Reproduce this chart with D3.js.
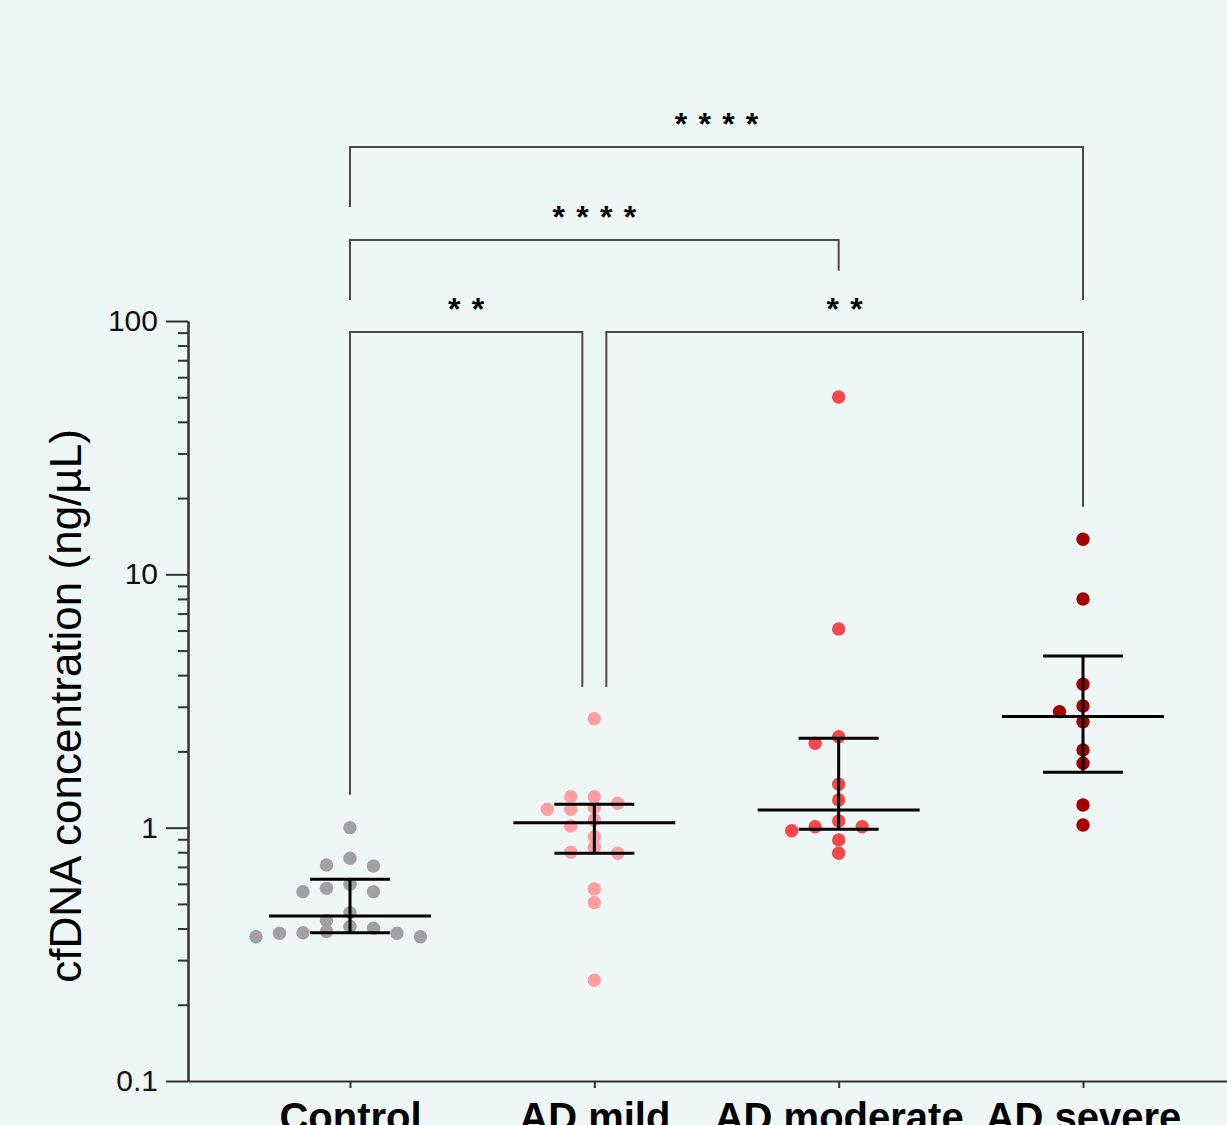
<!DOCTYPE html>
<html><head><meta charset="utf-8">
<script src="https://cdn.jsdelivr.net/npm/d3@7"></script>
<style>body{margin:0;background:#eef7f5;} svg{display:block;}</style>
</head><body><svg id="chart" width="1227" height="1125"></svg>
<script>
const categories = ["Control", "AD mild", "AD moderate", "AD severe"];
const controlValues = [1.0, 0.757, 0.712, 0.706, 0.598, 0.576, 0.559, 0.559, 0.462, 0.430, 0.407, 0.401, 0.389, 0.385, 0.383, 0.383, 0.371, 0.371];
const mildValues = [2.69, 1.326, 1.326, 1.248, 1.204, 1.182, 1.182, 1.072, 1.016, 0.922, 0.837, 0.800, 0.792, 0.573, 0.506, 0.250];
const moderateValues = [50.1, 6.09, 2.287, 2.154, 1.483, 1.286, 1.063, 1.009, 1.009, 0.973, 0.894, 0.792];
const severeValues = [13.75, 7.99, 3.68, 3.02, 2.87, 2.62, 2.026, 1.796, 1.229, 1.025];
const medians = [0.448, 1.046, 1.175, 2.744];
const q1 = [0.385, 0.792, 0.986, 1.654];
const q3 = [0.626, 1.237, 2.254, 4.76];
const dotColors = ["#a2a0a5", "#ff9ea0", "#f4474a", "#a40000"];
const yMajorTicks = [0.1, 1, 10, 100];
const yTickLabels = ["0.1", "1", "10", "100"];
const yTitle = "cfDNA concentration (ng/µL)";
const comparisons = [
  {from: 0, to: 3, label: "****", bar: 486, endFrom: 282, endTo: 121},
  {from: 0, to: 2, label: "****", bar: 209, endFrom: 121, endTo: 158},
  {from: 0, to: 1, label: "**", bar: 90.5, endFrom: 1.35, endTo: 3.59},
  {from: 1, to: 3, label: "**", bar: 90.5, endFrom: 3.59, endTo: 18.5}
];
const groups = [controlValues, mildValues, moderateValues, severeValues];

const svg = d3.select("#chart");
svg.append("rect").attr("width", 1227).attr("height", 1125).attr("fill", "#eef7f5");

const x = d3.scalePoint().domain(categories).range([188, 1245]).padding(0.663);
const y = d3.scaleLog().domain([0.1, 100]).range([1081, 321]);

// minor ticks
const minorTicks = [];
[0.1, 1, 10].forEach(d => { for (let k = 2; k <= 9; k++) minorTicks.push(d * k); });

const yMinor = svg.append("g").attr("transform", "translate(188,0)")
  .call(d3.axisLeft(y).tickValues(minorTicks).tickSize(10).tickSizeOuter(0).tickFormat(""));
const yMajor = svg.append("g").attr("transform", "translate(188,0)")
  .call(d3.axisLeft(y).tickValues(yMajorTicks).tickSize(22).tickSizeOuter(0).tickPadding(8)
    .tickFormat((d, i) => yTickLabels[i]));
[yMinor, yMajor].forEach(g => {
  g.selectAll("path.domain").attr("stroke", "#333").attr("stroke-width", 2);
  g.selectAll(".tick line").attr("stroke", "#333").attr("stroke-width", 2);
});
yMajor.selectAll(".tick text").attr("font-family", "Liberation Sans, Arial, sans-serif")
  .attr("font-size", 30).attr("fill", "#111");

const xAxis = svg.append("g").attr("transform", "translate(0,1081)")
  .call(d3.axisBottom(x).tickSize(7).tickSizeOuter(0));
xAxis.selectAll("path.domain").attr("stroke", "#333").attr("stroke-width", 2);
xAxis.selectAll(".tick line").attr("stroke", "#333").attr("stroke-width", 2);
xAxis.selectAll(".tick text").attr("y", 50).attr("dy", "0")
  .attr("font-family", "Liberation Sans, Arial, sans-serif").attr("font-weight", "bold")
  .attr("font-size", 40).attr("fill", "#000");

// y title
svg.append("text").attr("transform", "translate(81,706) rotate(-90)")
  .attr("text-anchor", "middle").attr("font-family", "Liberation Sans, Arial, sans-serif")
  .attr("font-size", 44).attr("fill", "#000").text(yTitle);

// beeswarm
function swarm(values, cx) {
  const h = 11.75;
  const placed = [];
  const pts = values.map(v => ({v, y: y(v)})).sort((a, b) => a.y - b.y);
  pts.forEach(p => {
    for (let k = 0; k < 60; k++) {
      const off = k === 0 ? 0 : (k % 2 ? -Math.ceil(k / 2) : Math.ceil(k / 2)) * h;
      const px = cx + off;
      if (!placed.some(q => Math.abs(q.x - px) < 22 && Math.abs(q.y - p.y) < 10.5)) {
        p.x = px; placed.push(p); break;
      }
    }
  });
  return placed;
}

groups.forEach((vals, i) => {
  const pts = swarm(vals, x(categories[i]));
  svg.append("g").selectAll("circle").data(pts).join("circle")
    .attr("cx", d => d.x).attr("cy", d => d.y).attr("r", 6.7)
    .attr("fill", dotColors[i]);
});

// median + IQR
categories.forEach((c, i) => {
  const cx = x(c);
  const g = svg.append("g").attr("stroke", "#000").attr("stroke-width", 3);
  g.append("line").attr("x1", cx - 81).attr("x2", cx + 81).attr("y1", y(medians[i])).attr("y2", y(medians[i]));
  g.append("line").attr("x1", cx - 40).attr("x2", cx + 40).attr("y1", y(q1[i])).attr("y2", y(q1[i]));
  g.append("line").attr("x1", cx - 40).attr("x2", cx + 40).attr("y1", y(q3[i])).attr("y2", y(q3[i]));
  g.append("line").attr("x1", cx).attr("x2", cx).attr("y1", y(q1[i])).attr("y2", y(q3[i]));
});

// significance brackets
comparisons.forEach(c => {
  let x1 = x(categories[c.from]), x2 = x(categories[c.to]);
  if (comparisons.some(o => o !== c && o.bar === c.bar && o.from === c.to)) x2 -= 12;
  if (comparisons.some(o => o !== c && o.bar === c.bar && o.to === c.from)) x1 += 12;
  const yb = y(c.bar);
  svg.append("path")
    .attr("d", `M${x1},${y(c.endFrom)}V${yb}H${x2}V${y(c.endTo)}`)
    .attr("fill", "none").attr("stroke", "#4a4a4a").attr("stroke-width", 2);
  svg.append("text").attr("x", (x1 + x2) / 2 + 0.6).attr("y", yb - 12)
    .attr("text-anchor", "middle").attr("font-family", "Liberation Sans, Arial, sans-serif")
    .attr("font-weight", "bold").attr("font-size", 32).attr("letter-spacing", 1.2)
    .attr("fill", "#000").text(c.label.split("").join(" "));
});
</script>
</body></html>
